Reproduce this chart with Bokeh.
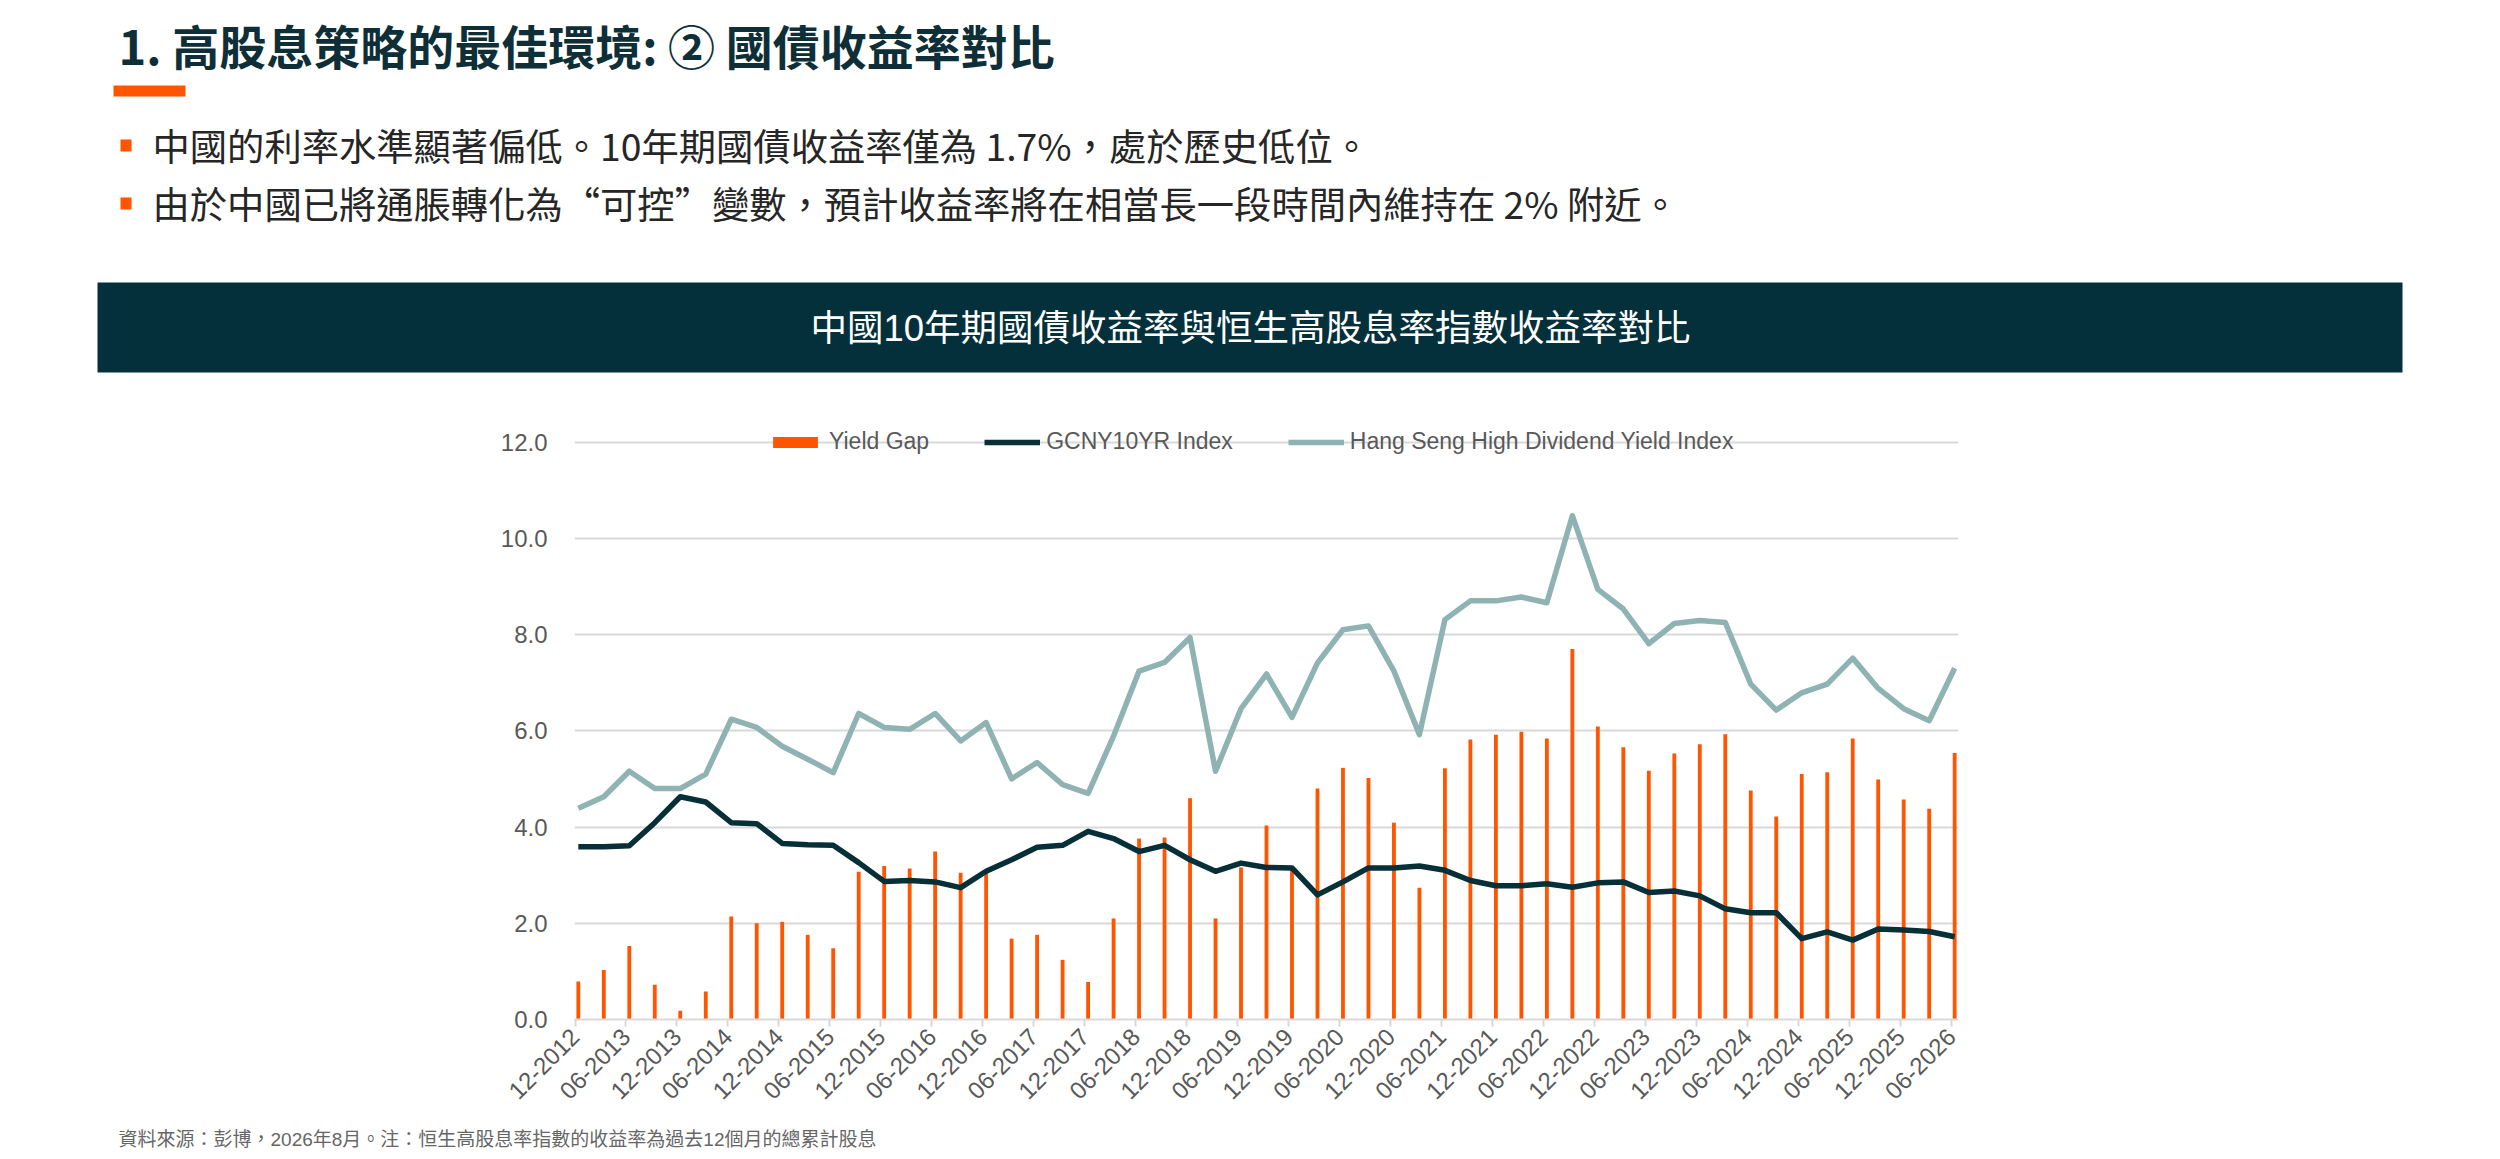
import math
from bokeh.plotting import figure
from bokeh.layouts import column
from bokeh.models import (Range1d, FixedTicker, PrintfTickFormatter, Legend,
                          LegendItem, ColumnDataSource)
from bokeh.core.properties import value
from bokeh.embed import file_html
from bokeh.resources import INLINE

# ---------------- data ----------------
quarters = [
    "12-2012", "03-2013", "06-2013", "09-2013", "12-2013", "03-2014", "06-2014",
    "09-2014", "12-2014", "03-2015", "06-2015", "09-2015", "12-2015", "03-2016",
    "06-2016", "09-2016", "12-2016", "03-2017", "06-2017", "09-2017", "12-2017",
    "03-2018", "06-2018", "09-2018", "12-2018", "03-2019", "06-2019", "09-2019",
    "12-2019", "03-2020", "06-2020", "09-2020", "12-2020", "03-2021", "06-2021",
    "09-2021", "12-2021", "03-2022", "06-2022", "09-2022", "12-2022", "03-2023",
    "06-2023", "09-2023", "12-2023", "03-2024", "06-2024", "09-2024", "12-2024",
    "03-2025", "06-2025", "09-2025", "12-2025", "03-2026", "06-2026",
]

yield_gap = [
    0.79, 1.03, 1.53, 0.72, 0.18, 0.58, 2.14, 2.00, 2.03, 1.76, 1.48,
    3.07, 3.19, 3.14, 3.49, 3.05, 3.09, 1.68, 1.76, 1.24, 0.78, 2.10,
    3.76, 3.78, 4.60, 2.10, 3.16, 4.03, 3.13, 4.80, 5.23, 5.02, 4.09,
    2.74, 5.22, 5.82, 5.92, 5.98, 5.84, 7.70, 6.09, 5.66, 5.17, 5.53,
    5.72, 5.93, 4.76, 4.22, 5.10, 5.14, 5.84, 4.99, 4.57, 4.38, 5.54,
]

gcny10yr = [
    3.59, 3.59, 3.61, 4.09, 4.63, 4.52, 4.09, 4.07, 3.66, 3.63, 3.62,
    3.26, 2.87, 2.89, 2.86, 2.74, 3.08, 3.32, 3.58, 3.62, 3.91, 3.76,
    3.49, 3.62, 3.32, 3.08, 3.25, 3.16, 3.15, 2.59, 2.86, 3.15, 3.15,
    3.19, 3.10, 2.89, 2.78, 2.78, 2.82, 2.75, 2.84, 2.86, 2.64, 2.67,
    2.57, 2.30, 2.22, 2.22, 1.68, 1.82, 1.65, 1.88, 1.86, 1.83, 1.72,
]

hs_high_div = [
    4.39, 4.63, 5.16, 4.80, 4.80, 5.10, 6.24, 6.07, 5.68, 5.41, 5.13,
    6.36, 6.07, 6.03, 6.36, 5.79, 6.17, 5.00, 5.34, 4.88, 4.70, 5.89,
    7.24, 7.42, 7.94, 5.16, 6.46, 7.18, 6.28, 7.41, 8.10, 8.18, 7.24,
    5.92, 8.31, 8.70, 8.70, 8.78, 8.66, 10.47, 8.94, 8.53, 7.81, 8.23,
    8.29, 8.25, 6.97, 6.43, 6.79, 6.97, 7.51, 6.88, 6.46, 6.21, 7.30,
]

tick_labels = [
    "12-2012", "06-2013", "12-2013", "06-2014", "12-2014", "06-2015", "12-2015",
    "06-2016", "12-2016", "06-2017", "12-2017", "06-2018", "12-2018", "06-2019",
    "12-2019", "06-2020", "12-2020", "06-2021", "12-2021", "06-2022", "12-2022",
    "06-2023", "12-2023", "06-2024", "12-2024", "06-2025", "12-2025", "06-2026",
]
y_ticks = [0, 2, 4, 6, 8, 10, 12]

series_names = ["Yield Gap", "GCNY10YR Index", "Hang Seng High Dividend Yield Index"]

title_text = "1. 高股息策略的最佳環境: ② 國債收益率對比"
bullet_texts = [
    "中國的利率水準顯著偏低。10年期國債收益率僅為 1.7%，處於歷史低位。",
    "由於中國已將通脹轉化為“可控”變數，預計收益率將在相當長一段時間內維持在 2% 附近。",
]
banner_text = "中國10年期國債收益率與恒生高股息率指數收益率對比"
source_text = "資料來源：彭博，2026年8月。注：恒生高股息率指數的收益率為過去12個月的總累計股息"

# ---------------- styles ----------------
ORANGE = "#FF5400"
DARK = "#062F38"
TEAL = "#8FB3B2"
GRID = "#D9D9D9"
LABEL = "#595959"
LATIN = "Liberation Sans"
CJK = "Liberation Sans, Noto Sans CJK TC"

W = 2484


def plain_canvas(height, y_top, y_bottom):
    f = figure(width=W, height=height, x_range=Range1d(0, W), y_range=Range1d(y_bottom, y_top),
               output_backend="svg", toolbar_location=None, min_border=0,
               x_axis_location=None, y_axis_location=None, frame_align=False)
    f.grid.visible = False
    f.outline_line_color = None
    return f


# ---------------- header ----------------
header = plain_canvas(408, 0, 408)

header.text(x=[118], y=[44], text=[title_text], text_font=value("Noto Sans CJK TC"),
            text_font_size="47px", text_font_style="bold", text_color="#0E2F37",
            text_baseline="middle", text_align="left")
header.quad(left=[113], right=[185], top=[85], bottom=[96], color=ORANGE, line_color=None)

header.quad(left=[120, 120], right=[131, 131], top=[139, 197], bottom=[151, 209],
            color=ORANGE, line_color=None)
header.text(x=[152, 152], y=[144, 202], text=bullet_texts, text_font=value("Noto Sans CJK TC"),
            text_font_size="37.3px", text_color="#262626",
            text_baseline="middle", text_align="left")

header.quad(left=[97], right=[2402], top=[282], bottom=[372], color="#03303A", line_color=None)
header.text(x=[1250], y=[328], text=[banner_text], text_font=value(CJK),
            text_font_size="36.5px", text_color="white",
            text_baseline="middle", text_align="center")

# ---------------- chart ----------------
src = ColumnDataSource(dict(x=list(range(len(quarters))), quarter=quarters,
                            gap=yield_gap, gcny=gcny10yr, hs=hs_high_div))

p = figure(width=W, height=720, x_range=Range1d(-0.15, len(quarters) - 1 + 0.15),
           y_range=Range1d(0, 12.49), output_backend="svg", toolbar_location=None,
           min_border_left=574, min_border_right=W - 1958, min_border_top=10,
           min_border_bottom=109, frame_align=False)
p.outline_line_color = None
p.xgrid.visible = False

r_bar = p.vbar(x="x", top="gap", width=0.15, source=src, color=ORANGE, line_color=None)
r_gc = p.line(x="x", y="gcny", source=src, line_color=DARK, line_width=5.5, line_join="round")
r_hs = p.line(x="x", y="hs", source=src, line_color=TEAL, line_width=5.5, line_join="round")

p.yaxis.ticker = FixedTicker(ticks=y_ticks)
p.yaxis.formatter = PrintfTickFormatter(format="%.1f")
p.yaxis.axis_line_color = None
p.yaxis.major_tick_line_color = None
p.yaxis.minor_tick_line_color = None
p.yaxis.major_tick_out = 0
p.yaxis.major_label_standoff = 27
p.yaxis.major_label_text_font = LATIN
p.yaxis.major_label_text_font_size = "24px"
p.yaxis.major_label_text_color = LABEL

p.ygrid.grid_line_color = GRID
p.ygrid.grid_line_width = 2

tick_pos = [2 * k - 0.13 for k in range(len(tick_labels))]
p.xaxis.ticker = FixedTicker(ticks=tick_pos)
p.xaxis.major_label_overrides = {t: lab for t, lab in zip(tick_pos, tick_labels)}
p.xaxis.axis_line_color = GRID
p.xaxis.axis_line_width = 2
p.xaxis.major_tick_line_color = GRID
p.xaxis.major_tick_line_width = 2
p.xaxis.major_tick_out = 7
p.xaxis.major_tick_in = 0
p.xaxis.minor_tick_line_color = None
p.xaxis.major_label_orientation = math.pi / 4
p.xaxis.major_label_standoff = 6
p.xaxis.major_label_text_font = LATIN
p.xaxis.major_label_text_font_size = "24px"
p.xaxis.major_label_text_color = LABEL

legend = Legend(items=[LegendItem(label=series_names[0], renderers=[r_bar]),
                       LegendItem(label=series_names[1], renderers=[r_gc]),
                       LegendItem(label=series_names[2], renderers=[r_hs])],
                orientation="horizontal", location=(193, 564),
                glyph_width=56, glyph_height=14, label_height=24, label_standoff=6,
                spacing=55, padding=0, margin=0, border_line_color=None,
                background_fill_alpha=0, label_text_font=LATIN,
                label_text_font_size="23px", label_text_color=LABEL)
p.add_layout(legend)

# ---------------- footer ----------------
footer = plain_canvas(23, 1128, 1151)
footer.text(x=[118], y=[1139], text=[source_text], text_font=value(CJK),
            text_font_size="19px", text_color="#666666",
            text_baseline="middle", text_align="left")

layout = column(header, p, footer, spacing=0)
open("out.html", "w").write(file_html(layout, INLINE))
